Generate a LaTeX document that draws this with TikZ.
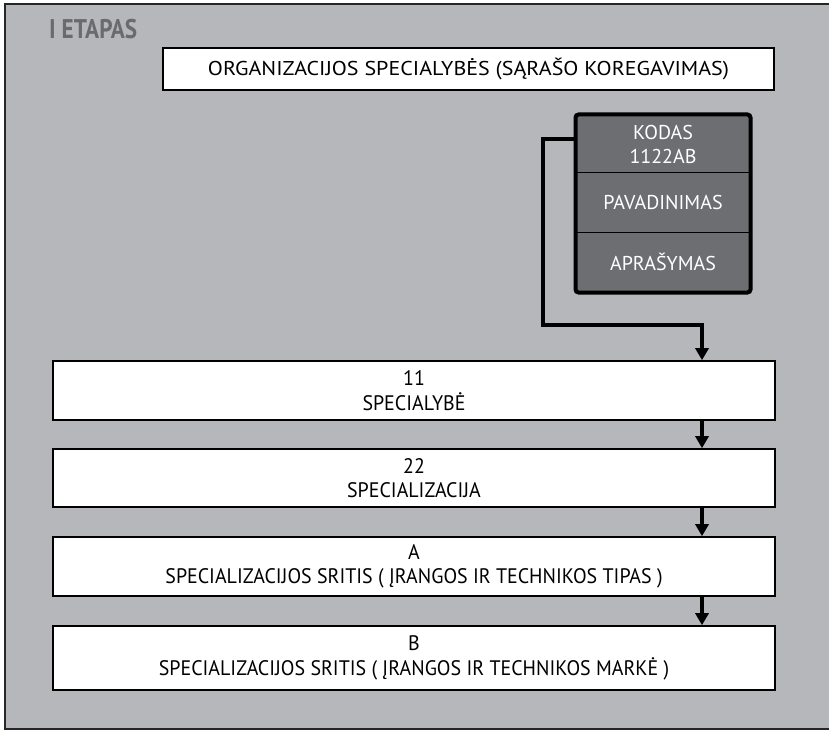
\documentclass[tikz,border=0pt]{standalone}
\usepackage{fontspec}
\setmainfont{PT Sans}
\newfontfamily\boxfont[FakeStretch=0.95]{PT Sans}
\newfontfamily\widefont[FakeStretch=1.1]{PT Sans}
\newfontfamily\titlefont[FakeStretch=0.86]{PT Sans Bold}
\usetikzlibrary{arrows.meta,fit}
\definecolor{bggray}{RGB}{182,183,187}
\definecolor{darkcell}{RGB}{109,110,114}
\definecolor{titlegray}{RGB}{106,107,111}
\tikzset{
  box/.style={draw=black, line width=1.6pt, fill=white, align=center,
    minimum width=722pt, minimum height=#1, inner sep=0pt,
    font=\boxfont\fontsize{21}{24.5}\selectfont},
  cell/.style={draw=black, line width=1pt, fill=darkcell, text=white, align=center,
    minimum width=174pt, minimum height=#1, inner sep=0pt,
    font=\fontsize{20}{24}\selectfont},
  conn/.style={line width=4pt, -{Triangle[width=13pt,length=12pt]}},
}
\begin{document}
\begin{tikzpicture}[x=1pt,y=-1pt]
\useasboundingbox (0,0) rectangle (829,730);
\draw[fill=bggray, draw=black!85, line width=1.6pt] (5,4) rectangle (860,729);
\node[anchor=west, text=titlegray, font=\titlefont\fontsize{27}{27}\selectfont, inner sep=0pt] (title) at (49,29) {I ETAPAS};
\node[box=42pt, minimum width=611pt, font=\widefont\fontsize{20}{24}\selectfont] (top) at (468.5,69) {ORGANIZACIJOS SPECIALYBĖS (SĄRAŠO KOREGAVIMAS)};
\node[cell=58pt] (kod) at (663,144) {KODAS\\1122AB};
\node[cell=59pt] (pav) at (663,202.5) {PAVADINIMAS};
\node[cell=60pt] (apr) at (663,262) {APRAŠYMAS};
\node[fit=(kod)(pav)(apr), draw=black, line width=4pt, rounded corners=3pt, inner sep=0pt] (card) {};
\node[box=59pt] (b11) at (414,390.5) {11\\SPECIALYBĖ};
\node[box=58pt] (b22) at (414,478) {22\\SPECIALIZACIJA};
\node[box=59pt] (bA) at (414,566.5) {A\\SPECIALIZACIJOS SRITIS ( ĮRANGOS IR TECHNIKOS TIPAS )};
\node[box=64pt] (bB) at (414,658) {B\\SPECIALIZACIJOS SRITIS ( ĮRANGOS IR TECHNIKOS MARKĖ )};
\coordinate (ax) at (702,0);
\coordinate (c1) at (543,325);
\draw[conn, line join=miter]
  ([yshift=5pt]kod.west -| card.west) -| (c1) -| (ax |- b11.north);
\draw[conn] (ax |- b11.south) -- (ax |- b22.north);
\draw[conn] (ax |- b22.south) -- (ax |- bA.north);
\draw[conn] (ax |- bA.south) -- (ax |- bB.north);
\end{tikzpicture}
\end{document}
